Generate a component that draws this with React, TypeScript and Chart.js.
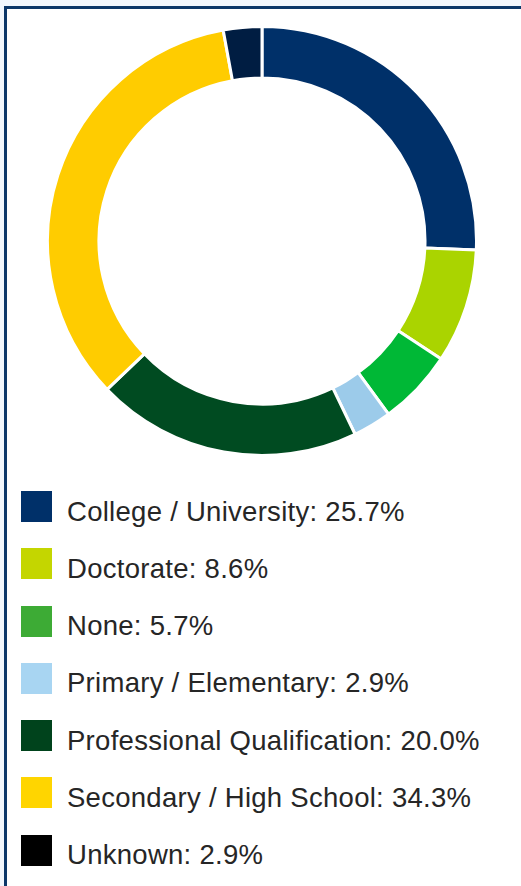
import React, { useEffect, useRef } from "react";
import { Chart, registerables } from "chart.js";

Chart.register(...registerables);

// Education level breakdown (share of respondents, %)
const categories = [
  "College / University",
  "Doctorate",
  "None",
  "Primary / Elementary",
  "Professional Qualification",
  "Secondary / High School",
  "Unknown",
];
const shares = [25.7, 8.6, 5.7, 2.9, 20.0, 34.3, 2.9];
const sliceColors = ["#003069", "#aad400", "#00b836", "#9ccbea", "#004b21", "#ffcc00", "#001d42"];
const keyColors = ["#003069", "#c4d600", "#3dab35", "#a8d5f2", "#00431c", "#ffd500", "#000000"];

const FONT = '"Liberation Sans", Arial, Helvetica, sans-serif';

export default function App() {
  const canvasRef = useRef<HTMLCanvasElement | null>(null);

  useEffect(() => {
    document.body.style.margin = "0";
    const canvas = canvasRef.current;
    if (!canvas) return;
    const chart = new Chart(canvas, {
      type: "doughnut",
      data: {
        labels: categories,
        datasets: [
          {
            data: shares,
            backgroundColor: sliceColors,
            borderColor: "#ffffff",
            borderWidth: 3,
          },
        ],
      },
      options: {
        responsive: false,
        animation: false,
        cutout: "76%",
        layout: { padding: 0 },
        plugins: {
          legend: { display: false },
          tooltip: { enabled: false },
        },
      },
    });
    return () => chart.destroy();
  }, []);

  return (
    <div
      style={{
        position: "fixed",
        left: 0,
        top: 0,
        width: 521,
        height: 886,
        overflow: "hidden",
        background: "#f2f7fd",
        fontFamily: FONT,
      }}
    >
      <div
        style={{
          position: "absolute",
          left: 4,
          top: 6,
          width: 600,
          height: 1000,
          borderLeft: "3px solid #0c3769",
          borderTop: "3px solid #0c3769",
          background: "#ffffff",
        }}
      />
      <canvas
        ref={canvasRef}
        width={432}
        height={432}
        style={{ position: "absolute", left: 46, top: 25, width: 432, height: 432 }}
      />
      <div style={{ position: "absolute", left: 21, top: 491 }}>
        {categories.map((name, i) => (
          <div
            key={name}
            style={{ display: "flex", alignItems: "center", height: 31, marginBottom: 26.3 }}
          >
            <div style={{ width: 31, height: 31, background: keyColors[i], flex: "none" }} />
            <div
              style={{
                marginLeft: 15,
                fontSize: 27.5,
                letterSpacing: 0.28,
                color: "#262626",
                whiteSpace: "nowrap",
                position: "relative",
                top: 5,
              }}
            >
              {`${name}: ${shares[i].toFixed(1)}%`}
            </div>
          </div>
        ))}
      </div>
    </div>
  );
}
